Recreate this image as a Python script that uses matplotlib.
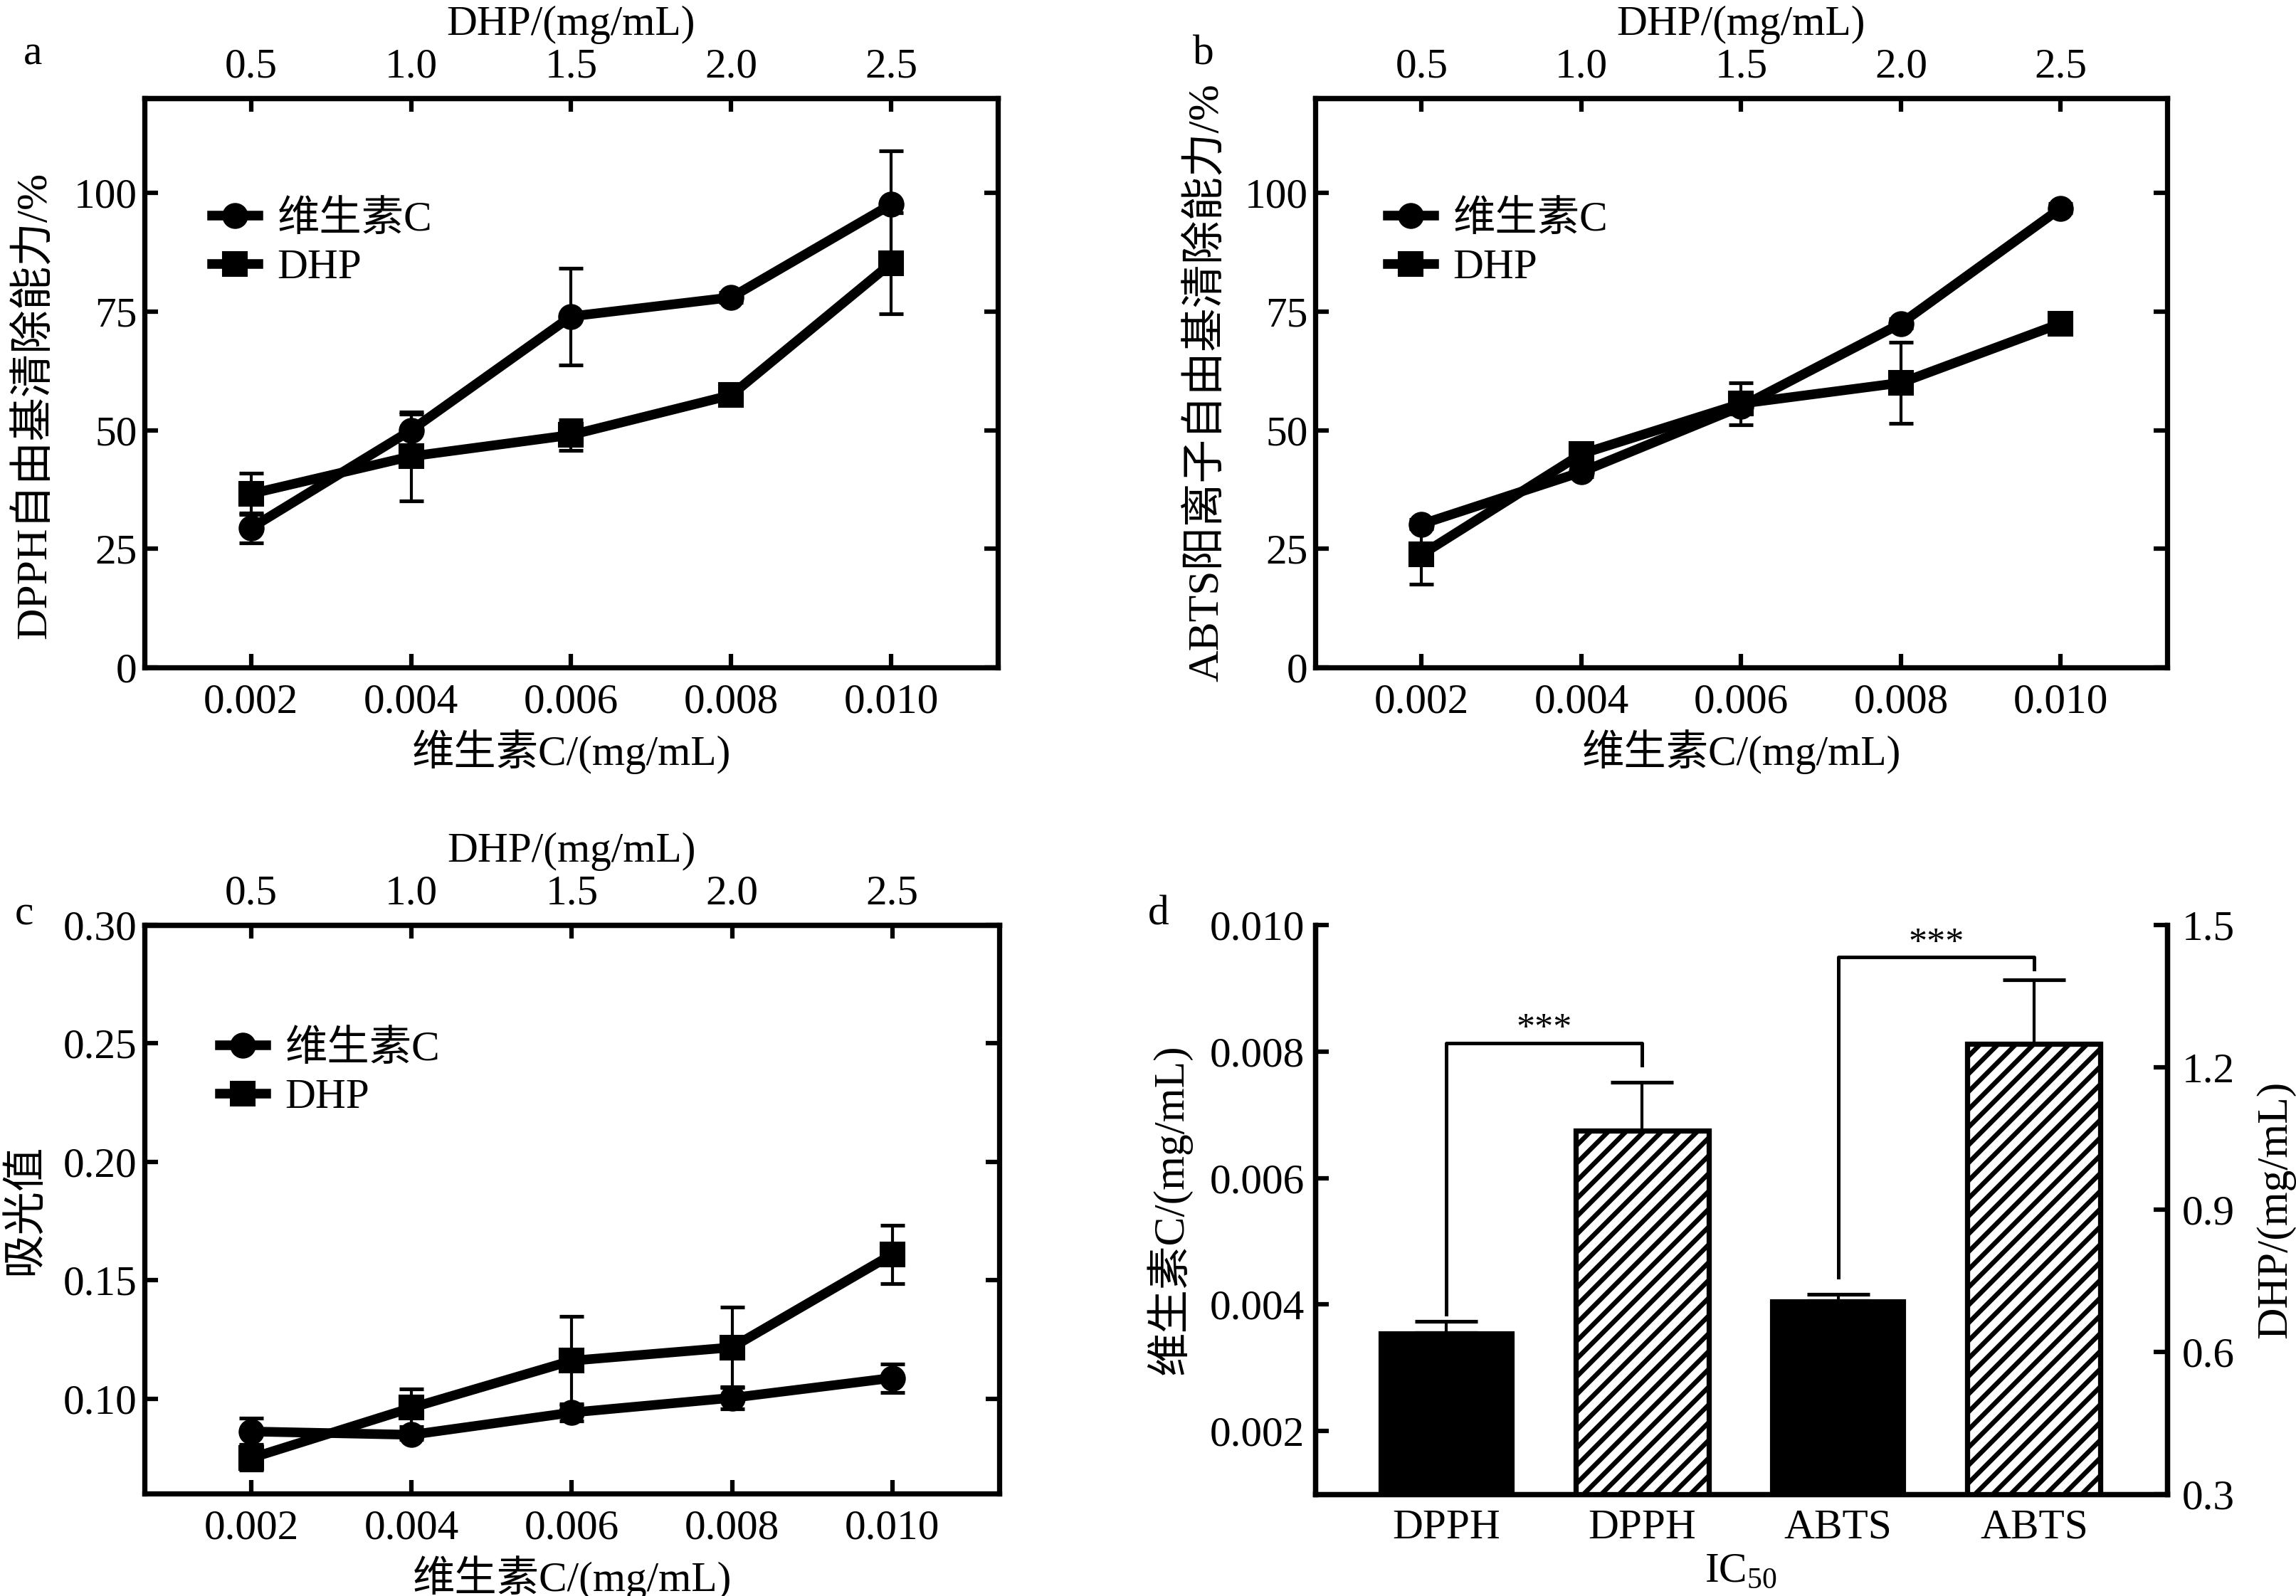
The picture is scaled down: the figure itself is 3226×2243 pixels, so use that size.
import matplotlib.pyplot as plt
import numpy as np
from matplotlib.ticker import FormatStrFormatter

plt.rcParams['font.family'] = ['Liberation Serif', 'Noto Sans CJK SC']
plt.rcParams['mathtext.fontset'] = 'custom'
plt.rcParams['mathtext.rm'] = 'Liberation Serif'
plt.rcParams['font.size'] = 28.5
plt.rcParams['hatch.linewidth'] = 3.2
plt.rcParams['axes.unicode_minus'] = False

# 维生素C 浓度 (底部坐标) 与 DHP 浓度 (顶部坐标)
vc_conc = [0.002, 0.004, 0.006, 0.008, 0.010]
dhp_ticks = [0.5, 1.0, 1.5, 2.0, 2.5]

# a: DPPH
dpph_vc = [29.4, 50.0, 74.0, 78.0, 97.6]
dpph_vc_err = [3.2, 3.4, 10.2, 1.0, 11.3]
dpph_dhp = [36.6, 44.5, 49.0, 57.4, 85.2]
dpph_dhp_err = [4.4, 9.4, 3.2, 1.2, 10.6]

# b: ABTS
abts_vc = [30.2, 41.2, 55.0, 72.5, 96.8]
abts_vc_err = [1.0, 1.0, 1.0, 1.0, 1.0]
abts_dhp = [23.8, 45.0, 55.6, 60.0, 72.5]
abts_dhp_err = [6.2, 1.0, 4.4, 8.5, 1.0]

# c: 吸光值
abs_vc = [0.0862, 0.0848, 0.0942, 0.1004, 0.1088]
abs_vc_err = [0.0055, 0.002, 0.0035, 0.0046, 0.006]
abs_dhp = [0.075, 0.0962, 0.1161, 0.1217, 0.161]
abs_dhp_err = [0.005, 0.008, 0.0188, 0.017, 0.0123]

# d: IC50
ic50_labels = ['DPPH', 'DPPH', 'ABTS', 'ABTS']
ic50_vc = [0.00355, 0.00406]
ic50_vc_err = [0.00018, 0.0001]
ic50_dhp = [1.066, 1.249]
ic50_dhp_err = [0.103, 0.135]

fig = plt.figure(figsize=(3226 / 150, 2243 / 150), dpi=150)

SPINE = 3.5
TICK = dict(direction='in', length=9, width=3)
YLAB = 29.5


def line_panel(pos, vc, vc_err, dhp, dhp_err, ylim, yticks, yfmt, ylabel, leg_anchor):
    ax = fig.add_axes(pos)
    ax.plot(vc_conc, vc, color='k', lw=6.5, marker='o', ms=16.5, label='维生素C', zorder=3)
    ax.plot(vc_conc, dhp, color='k', lw=6.5, marker='s', ms=16.5, label='DHP', zorder=3)
    ax.errorbar(vc_conc, vc, yerr=vc_err, fmt='none', ecolor='k', elinewidth=2,
                capsize=8, capthick=2.5, zorder=4)
    ax.errorbar(vc_conc, dhp, yerr=dhp_err, fmt='none', ecolor='k', elinewidth=2,
                capsize=8, capthick=2.5, zorder=4)
    ax.set_xlim(0.002 - 0.002 * 2 / 3, 0.010 + 0.002 * 2 / 3)
    ax.set_ylim(*ylim)
    ax.set_xticks(vc_conc)
    ax.xaxis.set_major_formatter(FormatStrFormatter('%.3f'))
    ax.set_yticks(yticks)
    ax.yaxis.set_major_formatter(FormatStrFormatter(yfmt))
    for s in ax.spines.values():
        s.set_linewidth(SPINE)
    ax.tick_params(axis='x', bottom=True, top=False, pad=11, **TICK)
    ax.tick_params(axis='y', left=True, right=True, pad=5, **TICK)
    ax.set_xlabel('维生素C/(mg/mL)', labelpad=5)
    ax.set_ylabel(ylabel, labelpad=12, fontsize=YLAB)
    sec = ax.secondary_xaxis('top', functions=(lambda x: x * 250, lambda x: x / 250))
    sec.set_xticks(dhp_ticks)
    sec.xaxis.set_major_formatter(FormatStrFormatter('%.1f'))
    sec.tick_params(pad=8, **TICK)
    sec.spines['top'].set_linewidth(SPINE)
    sec.set_xlabel('DHP/(mg/mL)', labelpad=9)
    ax.legend(loc='upper left', bbox_to_anchor=leg_anchor, frameon=False,
              handlelength=1.1, handletextpad=0.45, labelspacing=0.22,
              borderpad=0, borderaxespad=0)
    return ax


ax_a = line_panel([0.0629, 0.5818, 0.3717, 0.3567], dpph_vc, dpph_vc_err, dpph_dhp, dpph_dhp_err,
                  (0, 120), [0, 25, 50, 75, 100], '%d', 'DPPH自由基清除能力/%', (0.079, 0.82))
ax_a.yaxis.set_label_coords(-0.105, 0.46)
line_panel([0.5728, 0.5818, 0.3711, 0.3567], abts_vc, abts_vc_err, abts_dhp, abts_dhp_err,
           (0, 120), [0, 25, 50, 75, 100], '%d', 'ABTS阳离子自由基清除能力/%', (0.085, 0.82))
line_panel([0.0629, 0.0642, 0.3723, 0.3562], abs_vc, abs_vc_err, abs_dhp, abs_dhp_err,
           (0.06, 0.30), [0.10, 0.15, 0.20, 0.25, 0.30], '%.2f', '吸光值', (0.088, 0.815))

# d: IC50 柱状图, 左轴维生素C, 右轴DHP
ax = fig.add_axes([0.5728, 0.0638, 0.3711, 0.3566])
ax2 = ax.twinx()
x = np.arange(len(ic50_labels))
w = 0.68
ax.bar(x[[0, 2]], ic50_vc, w, color='k', edgecolor='k', lw=2,
       yerr=[[0, 0], ic50_vc_err], error_kw=dict(elinewidth=2, capsize=21, capthick=2.5))
ax2.bar(x[[1, 3]], ic50_dhp, w, color='white', edgecolor='k', lw=3.5, hatch='//',
        yerr=[[0, 0], ic50_dhp_err], error_kw=dict(elinewidth=2, capsize=21, capthick=2.5))
ax.set_xlim(-0.67, 3.68)
ax.set_ylim(0.001, 0.010)
ax2.set_ylim(0.3, 1.5)
ax.set_yticks([0.002, 0.004, 0.006, 0.008, 0.010])
ax.yaxis.set_major_formatter(FormatStrFormatter('%.3f'))
ax2.set_yticks([0.3, 0.6, 0.9, 1.2, 1.5])
ax2.yaxis.set_major_formatter(FormatStrFormatter('%.1f'))
ax.set_xticks(x)
ax.set_xticklabels(ic50_labels)
for a in (ax, ax2):
    a.spines['top'].set_visible(False)
    for s in ('left', 'right', 'bottom'):
        a.spines[s].set_linewidth(SPINE)
ax.tick_params(axis='x', length=0, pad=10)
ax.tick_params(axis='y', pad=7, **TICK)
ax2.tick_params(axis='y', pad=10, **TICK)
ax.set_xlabel('IC$_{50}$', labelpad=3)
ax.set_ylabel('维生素C/(mg/mL)', labelpad=12, fontsize=YLAB)
ax2.set_ylabel('DHP/(mg/mL)', labelpad=14, fontsize=YLAB)

# 显著性标记
ax.plot([0, 0, 1, 1], [0.00385, 0.00813, 0.00813, 0.00778], color='k', lw=2.4)
ax.plot([2, 2, 3, 3], [0.00443, 0.00949, 0.00949, 0.0093], color='k', lw=2.4)
ax.text(0.5, 0.00835, '***', ha='center', va='center', fontsize=25)
ax.text(2.5, 0.0097, '***', ha='center', va='center', fontsize=25)

fig.text(0.0143, 0.9657, 'a', ha='center', va='center')
fig.text(0.524, 0.9657, 'b', ha='center', va='center')
fig.text(0.0105, 0.4267, 'c', ha='center', va='center')
fig.text(0.5046, 0.4267, 'd', ha='center', va='center')

fig.savefig('out.png', dpi=150)
